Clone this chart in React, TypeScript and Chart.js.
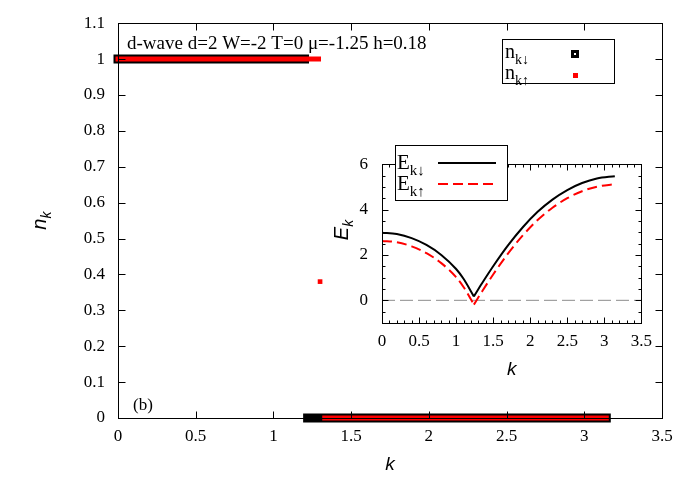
import React, { useEffect, useRef } from 'react';
import { Chart, registerables } from 'chart.js';
Chart.register(...registerables);

// ---------- main panel data ----------
const mainXTicks = [0, 0.5, 1, 1.5, 2, 2.5, 3, 3.5];
const mainYTicks = [0, 0.1, 0.2, 0.3, 0.4, 0.5, 0.6, 0.7, 0.8, 0.9, 1, 1.1];
const downOccK = [0, 1.2];
const downOccN = [1, 1];
const downEmptyK = [1.22, 3.1416];
const downEmptyN = [0, 0];
const upOccK = [0, 1.29];
const upOccN = [1, 1];
const upMidK = [1.3];
const upMidN = [0.38];
const upEmptyK = [1.33, 3.1416];
const upEmptyN = [0, 0];

// ---------- inset data (left branch up to the V tip, right branch after it) ----------
const insetXTicks = [0, 0.5, 1, 1.5, 2, 2.5, 3, 3.5];
const insetYTicks = [0, 2, 4, 6];
const kLeft = [0, 0.2, 0.4, 0.6, 0.8, 1.0, 1.1, 1.24];
const eDownLeft = [2.98, 2.92, 2.74, 2.44, 2.0, 1.38, 0.95, 0.17];
const eUpLeft = [2.62, 2.56, 2.38, 2.08, 1.64, 1.02, 0.59, -0.19];
const kRight = [1.24, 1.35, 1.5, 1.7, 1.9, 2.1, 2.3, 2.5, 2.7, 2.9, 3.1416];
const eDownRight = [0.17, 0.75, 1.5, 2.42, 3.22, 3.9, 4.44, 4.86, 5.17, 5.37, 5.47];
const eUpRight = [-0.19, 0.39, 1.14, 2.06, 2.86, 3.54, 4.08, 4.5, 4.81, 5.01, 5.12];
const zeroK = [0, 3.5];
const zeroE = [0, 0];

const SERIF = '"Liberation Serif", "Times New Roman", serif';
const SANS = '"Liberation Sans", Arial, sans-serif';

const pts = (xs: number[], ys: number[]) => xs.map((x, i) => ({ x, y: ys[i] }));

function drawSubLabel(ctx: CanvasRenderingContext2D, x: number, y: number, main: string, sub: string, size: number) {
  ctx.font = `${size}px ${SERIF}`;
  ctx.textAlign = 'left';
  ctx.textBaseline = 'alphabetic';
  ctx.fillText(main, x, y);
  const w = ctx.measureText(main).width;
  const ss = Math.round(size * 0.72);
  ctx.font = `${ss}px ${SERIF}`;
  ctx.fillText(sub, x + w, y + size * 0.28);
}

function frameTicks(chart: any, xMajor: number[], yMajor: number[], xMinor: number[], yMinor: number[], L: number, l: number) {
  const { ctx, chartArea: a, scales } = chart;
  const sx = scales.x, sy = scales.y;
  ctx.save();
  ctx.strokeStyle = '#000';
  ctx.lineWidth = 1;
  ctx.beginPath();
  const line = (x1: number, y1: number, x2: number, y2: number) => { ctx.moveTo(x1, y1); ctx.lineTo(x2, y2); };
  const L0 = Math.round(a.left) + 0.5, R0 = Math.round(a.right) + 0.5, T0 = Math.round(a.top) + 0.5, B0 = Math.round(a.bottom) + 0.5;
  xMajor.forEach(v => { const p = Math.round(sx.getPixelForValue(v)) + 0.5; line(p, B0, p, B0 - L); line(p, T0, p, T0 + L); });
  xMinor.forEach(v => { const p = Math.round(sx.getPixelForValue(v)) + 0.5; line(p, B0, p, B0 - l); line(p, T0, p, T0 + l); });
  yMajor.forEach(v => { const p = Math.round(sy.getPixelForValue(v)) + 0.5; line(L0, p, L0 + L, p); line(R0, p, R0 - L, p); });
  yMinor.forEach(v => { const p = Math.round(sy.getPixelForValue(v)) + 0.5; line(L0, p, L0 + l, p); line(R0, p, R0 - l, p); });
  ctx.stroke();
  ctx.strokeRect(L0, T0, R0 - L0, B0 - T0);
  ctx.restore();
}

const fmt = (v: number) => String(Math.round(v * 100) / 100);

export default function App() {
  const mainRef = useRef<HTMLCanvasElement>(null);
  const insetRef = useRef<HTMLCanvasElement>(null);

  useEffect(() => {
    const mainPlugin = {
      id: 'mainDeco',
      afterDraw(chart: any) {
        frameTicks(chart, mainXTicks, mainYTicks, [], [], 7, 0);
        const ctx = chart.ctx as CanvasRenderingContext2D;
        const a = chart.chartArea;
        ctx.save();
        ctx.fillStyle = '#000';
        ctx.font = `19px ${SERIF}`;
        ctx.textAlign = 'left';
        ctx.textBaseline = 'alphabetic';
        ctx.fillText('d-wave d=2 W=-2 T=0 \u03bc=-1.25 h=0.18', 127, 49);
        ctx.font = `17px ${SERIF}`;
        ctx.fillText('(b)', 133, 410);
        // legend
        ctx.fillStyle = '#fff';
        ctx.fillRect(503, 39, 112, 44);
        ctx.strokeStyle = '#000';
        ctx.lineWidth = 1;
        ctx.strokeRect(502.5, 39.5, 112, 44);
        ctx.fillStyle = '#000';
        drawSubLabel(ctx, 505, 58, 'n', 'k\u2193', 20);
        drawSubLabel(ctx, 505, 79, 'n', 'k\u2191', 20);
        ctx.fillStyle = '#000';
        ctx.fillRect(571, 50, 8, 8);
        ctx.fillStyle = '#fff';
        ctx.fillRect(574, 53, 2, 2);
        ctx.fillStyle = '#ff0000';
        ctx.fillRect(573, 73, 5, 5);
        // axis titles
        ctx.fillStyle = '#000';
        ctx.font = `italic 19px ${SANS}`;
        ctx.textAlign = 'center';
        ctx.fillText('k', (a.left + a.right) / 2, 470);
        ctx.translate(46, (a.top + a.bottom) / 2);
        ctx.rotate(-Math.PI / 2);
        ctx.textAlign = 'left';
        ctx.font = `italic 20px ${SANS}`;
        const wn = ctx.measureText('n').width;
        ctx.font = `italic 14px ${SANS}`;
        const wk = ctx.measureText('k').width;
        const x0 = -(wn + wk) / 2;
        ctx.font = `italic 20px ${SANS}`;
        ctx.fillText('n', x0, 0);
        ctx.font = `italic 14px ${SANS}`;
        ctx.fillText('k', x0 + wn, 5);
        ctx.restore();
      },
    };

    const bandCommon = { showLine: true, pointRadius: 0, borderCapStyle: 'square', clip: false, fill: false } as any;
    const main = new Chart(mainRef.current!, {
      type: 'scatter',
      data: {
        datasets: [
          { ...bandCommon, data: pts(upOccK, upOccN), borderColor: '#ff0000', borderWidth: 5, order: 0 },
          { ...bandCommon, data: pts(upEmptyK, upEmptyN), borderColor: '#ff0000', borderWidth: 5, order: 0 },
          { showLine: false, data: pts(upMidK, upMidN), pointStyle: 'rect', pointRadius: 3.3, pointBackgroundColor: '#ff0000', pointBorderWidth: 0, borderColor: '#ff0000', backgroundColor: '#ff0000', clip: false, order: 0 } as any,
          { ...bandCommon, data: pts(downOccK, downOccN), borderColor: '#000', borderWidth: 9, order: 1 },
          { ...bandCommon, data: pts(downEmptyK, downEmptyN), borderColor: '#000', borderWidth: 9, order: 1 },
        ],
      },
      options: {
        responsive: false,
        animation: false,
        devicePixelRatio: 1,
        layout: { padding: { left: 0, right: 23, top: 20, bottom: 0 } },
        plugins: { legend: { display: false }, tooltip: { enabled: false } },
        scales: {
          x: {
            type: 'linear', min: 0, max: 3.5,
            grid: { display: false, drawTicks: false },
            border: { display: false },
            afterBuildTicks: (s: any) => { s.ticks = mainXTicks.map(v => ({ value: v })); },
            afterFit: (s: any) => { s.height = 62; },
            ticks: { color: '#000', font: { family: SERIF, size: 17 }, padding: 8, maxRotation: 0, autoSkip: false, callback: (v: any) => fmt(Number(v)) },
          },
          y: {
            type: 'linear', min: 0, max: 1.1,
            grid: { display: false, drawTicks: false },
            border: { display: false },
            afterBuildTicks: (s: any) => { s.ticks = mainYTicks.map(v => ({ value: v })); },
            afterFit: (s: any) => { s.width = 118; },
            ticks: { color: '#000', font: { family: SERIF, size: 17 }, padding: 13, autoSkip: false, callback: (v: any) => fmt(Number(v)) },
          },
        },
      },
      plugins: [mainPlugin],
    } as any);

    const insetMinorX: number[] = [];
    for (let i = 1; i < 35; i++) if (i % 5 !== 0) insetMinorX.push(i / 10);
    const insetMinorY = [-0.5, 0.5, 1, 1.5, 2.5, 3, 3.5, 4.5, 5, 5.5];

    const insetPlugin = {
      id: 'insetDeco',
      beforeDraw(chart: any) {
        const ctx = chart.ctx as CanvasRenderingContext2D;
        const a = chart.chartArea;
        ctx.save();
        ctx.fillStyle = '#fff';
        ctx.fillRect(a.left, a.top, a.right - a.left, a.bottom - a.top);
        ctx.restore();
      },
      afterDraw(chart: any) {
        frameTicks(chart, insetXTicks, insetYTicks, insetMinorX, insetMinorY, 6, 3);
        const ctx = chart.ctx as CanvasRenderingContext2D;
        const a = chart.chartArea;
        const ox = 330, oy = 140;
        ctx.save();
        ctx.fillStyle = '#fff';
        ctx.fillRect(395 - ox, 145 - oy, 112, 55);
        ctx.strokeStyle = '#000';
        ctx.lineWidth = 1;
        ctx.strokeRect(395.5 - ox, 145.5 - oy, 112, 55);
        ctx.fillStyle = '#000';
        drawSubLabel(ctx, 397 - ox, 169 - oy, 'E', 'k\u2193', 21);
        drawSubLabel(ctx, 397 - ox, 190 - oy, 'E', 'k\u2191', 21);
        ctx.lineWidth = 2;
        ctx.strokeStyle = '#000';
        ctx.beginPath(); ctx.moveTo(438 - ox, 163 - oy); ctx.lineTo(496 - ox, 163 - oy); ctx.stroke();
        ctx.strokeStyle = '#ff0000';
        ctx.setLineDash([10, 5]);
        ctx.beginPath(); ctx.moveTo(438 - ox, 184 - oy); ctx.lineTo(496 - ox, 184 - oy); ctx.stroke();
        ctx.setLineDash([]);
        ctx.fillStyle = '#000';
        ctx.font = `italic 19px ${SANS}`;
        ctx.textAlign = 'center';
        ctx.textBaseline = 'alphabetic';
        ctx.fillText('k', (a.left + a.right) / 2, 375 - oy);
        ctx.translate(348 - ox, 230 - oy);
        ctx.rotate(-Math.PI / 2);
        ctx.textAlign = 'left';
        ctx.font = `italic 20px ${SANS}`;
        const wE = ctx.measureText('E').width;
        ctx.font = `italic 14px ${SANS}`;
        const wk = ctx.measureText('k').width;
        const x0 = -(wE + wk) / 2;
        ctx.font = `italic 20px ${SANS}`;
        ctx.fillText('E', x0, 0);
        ctx.font = `italic 14px ${SANS}`;
        ctx.fillText('k', x0 + wE, 5);
        ctx.restore();
      },
    };

    const curve = { showLine: true, pointRadius: 0, borderWidth: 2, cubicInterpolationMode: 'monotone' } as any;
    const inset = new Chart(insetRef.current!, {
      type: 'scatter',
      data: {
        datasets: [
          { ...curve, data: pts(kLeft, eDownLeft), borderColor: '#000', order: 0 },
          { ...curve, data: pts(kRight, eDownRight), borderColor: '#000', order: 0 },
          { ...curve, data: pts(kLeft, eUpLeft), borderColor: '#ff0000', borderDash: [10, 5], order: 1 },
          { ...curve, data: pts(kRight, eUpRight), borderColor: '#ff0000', borderDash: [10, 5], order: 1 },
          { data: pts(zeroK, zeroE), showLine: true, pointRadius: 0, borderColor: '#8c8c8c', borderWidth: 1, borderDash: [13, 5], order: 2 },
        ],
      },
      options: {
        responsive: false,
        animation: false,
        devicePixelRatio: 1,
        layout: { padding: { left: 0, right: 17, top: 6, bottom: 0 } },
        plugins: { legend: { display: false }, tooltip: { enabled: false } },
        scales: {
          x: {
            type: 'linear', min: 0, max: 3.5,
            grid: { display: false, drawTicks: false },
            border: { display: false },
            afterBuildTicks: (s: any) => { s.ticks = insetXTicks.map(v => ({ value: v })); },
            afterFit: (s: any) => { s.height = 62; },
            ticks: { color: '#000', font: { family: SERIF, size: 17 }, padding: 8, maxRotation: 0, autoSkip: false, callback: (v: any) => fmt(Number(v)) },
          },
          y: {
            type: 'linear', min: -1, max: 6,
            grid: { display: false, drawTicks: false },
            border: { display: false },
            afterBuildTicks: (s: any) => { s.ticks = insetYTicks.map(v => ({ value: v })); },
            afterFit: (s: any) => { s.width = 52; },
            ticks: { color: '#000', font: { family: SERIF, size: 17 }, padding: 14, autoSkip: false, callback: (v: any) => fmt(Number(v)) },
          },
        },
      },
      plugins: [insetPlugin],
    } as any);

    return () => { main.destroy(); inset.destroy(); };
  }, []);

  return (
    <div style={{ position: 'absolute', left: 0, top: 0, width: 685, height: 480, background: '#fff' }}>
      <canvas ref={mainRef} width={685} height={480} style={{ position: 'absolute', left: 0, top: 0 }} />
      <canvas ref={insetRef} width={330} height={245} style={{ position: 'absolute', left: 330, top: 140 }} />
    </div>
  );
}
